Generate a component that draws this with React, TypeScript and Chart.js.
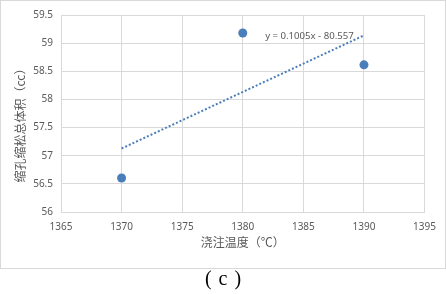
import React, { useEffect, useRef } from "react";
import { Chart, registerables } from "chart.js";

Chart.register(...registerables);

// ---- data ----
const temperatures = [1370, 1380, 1390];
const volumes = [56.605, 59.18, 58.615];
const trendSlope = 0.1005;
const trendIntercept = -80.557;
const trendRange = [1370, 1390];
const xTicks = [1365, 1370, 1375, 1380, 1385, 1390, 1395];
const yTicks = [56, 56.5, 57, 57.5, 58, 58.5, 59, 59.5];
const equationLabel = "y = 0.1005x - 80.557";
const equationAnchor = { x: 1385.5, y: 59.13 };
const xTitle = "浇注温度（℃）";
const yTitle = "缩孔缩松总体积（cc）　　";
const caption = "c";

const TICK_FONT = { family: '"Noto Sans", sans-serif', size: 10 };
const TITLE_FONT = { family: '"Noto Sans CJK SC", sans-serif', size: 12 };
const GRAY = "#d9d9d9";
const TEXT = "#595959";
const BLUE = "#4a7ebb";

const equationPlugin = {
  id: "equationLabel",
  afterDatasetsDraw(chart: any) {
    const { ctx, scales } = chart;
    const px = scales.x.getPixelForValue(equationAnchor.x);
    const py = scales.y.getPixelForValue(equationAnchor.y);
    ctx.save();
    ctx.font = '9.6px "Noto Sans", sans-serif';
    ctx.fillStyle = TEXT;
    ctx.textAlign = "center";
    ctx.textBaseline = "middle";
    ctx.fillText(equationLabel, px, py);
    ctx.restore();
  },
};

export default function App() {
  const ref = useRef<HTMLCanvasElement | null>(null);

  useEffect(() => {
    document.body.style.margin = "0";
    if (!ref.current) return;
    const trendData = trendRange.map((t) => ({ x: t, y: trendSlope * t + trendIntercept }));
    const chart = new Chart(ref.current, {
      type: "scatter",
      data: {
        datasets: [
          {
            type: "line",
            data: trendData,
            borderColor: BLUE,
            borderWidth: 2,
            borderDash: [2, 2],
            pointRadius: 0,
            fill: false,
          } as any,
          {
            type: "scatter",
            data: temperatures.map((t, i) => ({ x: t, y: volumes[i] })),
            backgroundColor: BLUE,
            borderWidth: 0,
            pointRadius: 4.5,
          },
        ],
      },
      options: {
        responsive: false,
        animation: false,
        layout: { padding: { left: 0, right: 17, top: 13, bottom: 0 } },
        plugins: { legend: { display: false }, tooltip: { enabled: false } },
        scales: {
          x: {
            type: "linear",
            min: xTicks[0],
            max: xTicks[xTicks.length - 1],
            afterBuildTicks: (s: any) => {
              s.ticks = xTicks.map((v) => ({ value: v }));
            },
            afterFit: (s: any) => {
              s.height = 56;
            },
            grid: { color: GRAY, drawTicks: false },
            border: { color: GRAY },
            ticks: {
              font: TICK_FONT,
              color: TEXT,
              padding: 9,
              maxRotation: 0,
              callback: (v: any) => String(v),
            },
            title: {
              display: true,
              text: xTitle,
              font: TITLE_FONT,
              color: TEXT,
              padding: { top: 0, bottom: 18 },
            },
          },
          y: {
            type: "linear",
            min: yTicks[0],
            max: yTicks[yTicks.length - 1],
            afterBuildTicks: (s: any) => {
              s.ticks = yTicks.map((v) => ({ value: v }));
            },
            afterFit: (s: any) => {
              s.width = 60;
            },
            grid: { color: GRAY, drawTicks: false },
            border: { color: GRAY },
            ticks: {
              font: TICK_FONT,
              color: TEXT,
              padding: 8,
              callback: (v: any) => String(v),
            },
            title: {
              display: true,
              text: yTitle,
              font: TITLE_FONT,
              color: TEXT,
              padding: { top: 12, bottom: 0 },
            },
          },
        },
      },
      plugins: [equationPlugin],
    });
    return () => chart.destroy();
  }, []);

  return (
    <div style={{ position: "relative", width: 446, height: 294, background: "#fff" }}>
      <div
        style={{
          position: "absolute",
          left: 0,
          top: 0,
          width: 446,
          height: 269,
          boxSizing: "border-box",
          border: `1px solid ${GRAY}`,
        }}
      >
        <canvas ref={ref} width={444} height={267} style={{ display: "block" }} />
      </div>
      <div
        style={{
          position: "absolute",
          left: 0,
          top: 267,
          width: 446,
          height: 22,
          lineHeight: "22px",
          textAlign: "center",
          fontFamily: '"Liberation Serif", serif',
          fontSize: 20,
          color: "#000",
        }}
      >
        <span>(</span>
        <span style={{ margin: "0 7px" }}>{caption}</span>
        <span>)</span>
      </div>
    </div>
  );
}
